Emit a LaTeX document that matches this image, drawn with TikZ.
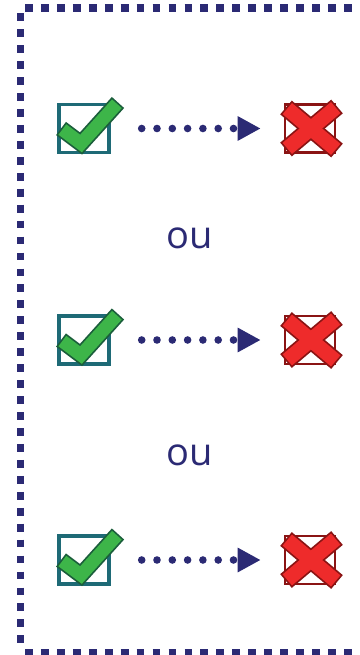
\documentclass[tikz,border=0pt]{standalone}
\usepackage{fontspec}
\setmainfont{Open Sans}
\usetikzlibrary{arrows.meta}

\definecolor{navy}{HTML}{2B2A74}
\definecolor{checkteal}{HTML}{1E6A76}
\definecolor{checkgreen}{HTML}{3DB549}
\definecolor{checkdark}{HTML}{1B5E3B}
\definecolor{crossred}{HTML}{EE2B2B}
\definecolor{crossdark}{HTML}{8A1414}

\tikzset{
  frameline/.style={navy, line width=7.8pt, dash pattern=on 7.8pt off 8.15pt},
  okbox/.style={draw=checkteal, line width=3.4pt, minimum width=50pt,
    minimum height=48pt, inner sep=0pt},
  nobox/.style={draw=crossdark, line width=2.6pt, minimum width=50pt,
    minimum height=48pt, inner sep=0pt},
  dotarrow/.style={navy, line width=7.6pt, line cap=round,
    dash pattern=on 0pt off 15.3pt,
    -{Triangle[length=23pt,width=23pt]},
    shorten <=31pt, shorten >=23pt},
  orlabel/.style={text=navy, font=\fontsize{38}{40}\selectfont, inner sep=0pt},
  pics/tick/.style={code={
    \draw[checkdark, line width=16.5pt, line join=miter]
      (-23,0) -- (-3,15) -- (34,-26);
    \draw[checkgreen, line width=13pt, line join=miter,
      shorten <=1.7pt, shorten >=1.7pt]
      (-23,0) -- (-3,15) -- (34,-26);
  }},
  pics/cross/.style={code={
    \draw[crossdark, line width=18pt] (-24,-21) -- (27,22);
    \draw[crossdark, line width=18pt] (-24,21) -- (27,-22);
    \draw[crossred, line width=14.5pt, shorten <=1.7pt, shorten >=1.7pt]
      (-24,-21) -- (27,22);
    \draw[crossred, line width=14.5pt, shorten <=1.7pt, shorten >=1.7pt]
      (-24,21) -- (27,-22);
  }},
}

\begin{document}
\begin{tikzpicture}[x=1pt, y=-1pt]
  \useasboundingbox[fill=white] (0,0) rectangle (359,655);

  % open dotted frame
  \draw[frameline] (25,8.3) -- (359,8.3);
  \draw[frameline] (20.5,13.3) -- (20.5,648);
  \draw[frameline] (25,652.5) -- (359,652.5);

  % three rows: tick -> cross
  \foreach \i/\yy in {1/128.5, 2/340, 3/560} {
    \node[okbox] (ok\i) at (84,\yy) {};
    \pic at (ok\i.center) {tick};
    \node[nobox] (no\i) at (310,\yy) {};
    \pic at (no\i.center) {cross};
    \draw[dotarrow] (ok\i.east) -- (no\i.west);
  }

  \node[orlabel] (or1) at (190,238) {ou};
  \node[orlabel] (or2) at (190,455.5) {ou};
\end{tikzpicture}
\end{document}
